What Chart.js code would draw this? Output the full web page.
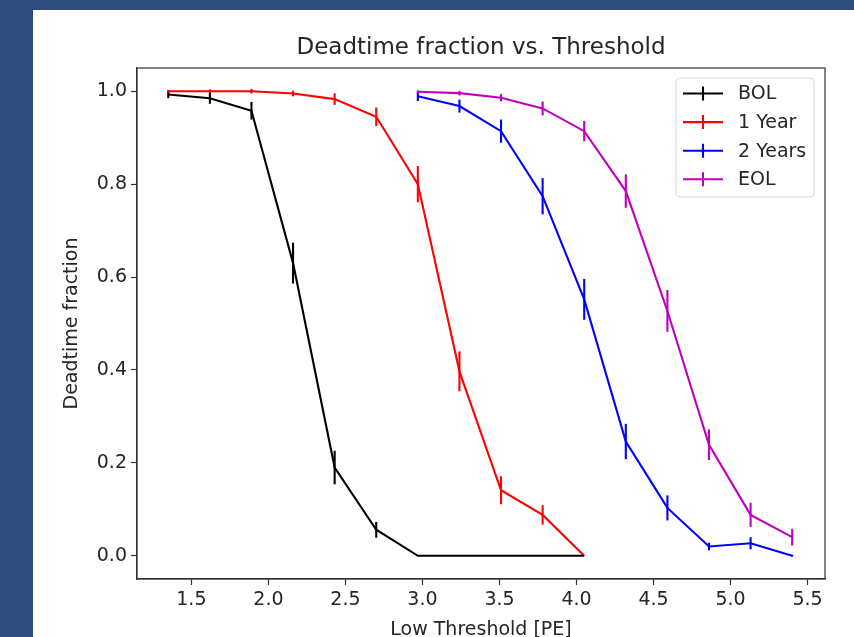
<!DOCTYPE html>
<html>
<head>
<meta charset="utf-8">
<script src="https://cdn.jsdelivr.net/npm/chart.js@4"></script>
<style>
  html, body { margin: 0; padding: 0; width: 854px; height: 637px; overflow: hidden; background: #2e4c7e; }
  #panel { position: absolute; left: 33px; top: 10px; width: 821px; height: 627px; background: #ffffff; }
  #wrap { position: absolute; left: 0; top: 0; width: 854px; height: 645px; }
</style>
</head>
<body>
<div id="panel"></div>
<div id="wrap"><canvas id="deadtimeChart" width="854" height="645"></canvas></div>
<script>
  // ----- data -----
  const labels = ["BOL", "1 Year", "2 Years", "EOL"];
  const colors = ["#000000", "#ff0000", "#0000ff", "#bf00bf"];

  const bolX = [1.35, 1.62, 1.89, 2.16, 2.43, 2.70, 2.97, 3.24, 3.51, 3.78, 4.05];
  const bolY = [0.993, 0.985, 0.958, 0.630, 0.190, 0.056, 0, 0, 0, 0, 0];
  const bolErr = [0.008, 0.012, 0.019, 0.044, 0.036, 0.017, 0, 0, 0, 0, 0];

  const year1X = [1.35, 1.62, 1.89, 2.16, 2.43, 2.70, 2.97, 3.24, 3.51, 3.78, 4.05];
  const year1Y = [1.0, 1.0, 1.0, 0.995, 0.983, 0.945, 0.800, 0.397, 0.141, 0.088, 0.0];
  const year1Err = [0.003, 0.004, 0.005, 0.006, 0.0125, 0.02, 0.039, 0.043, 0.03, 0.021, 0];

  const year2X = [2.97, 3.24, 3.51, 3.78, 4.05, 4.32, 4.59, 4.86, 5.13, 5.40];
  const year2Y = [0.989, 0.968, 0.914, 0.774, 0.552, 0.246, 0.103, 0.020, 0.027, 0.0];
  const year2Err = [0.01, 0.014, 0.025, 0.039, 0.044, 0.038, 0.027, 0.008, 0.013, 0.002];

  const eolX = [2.97, 3.24, 3.51, 3.78, 4.05, 4.32, 4.59, 4.86, 5.13, 5.40];
  const eolY = [0.999, 0.996, 0.986, 0.963, 0.914, 0.785, 0.527, 0.239, 0.088, 0.040];
  const eolErr = [0.003, 0.005, 0.008, 0.015, 0.022, 0.036, 0.045, 0.033, 0.026, 0.018];

  const xTicks = [1.5, 2.0, 2.5, 3.0, 3.5, 4.0, 4.5, 5.0, 5.5];
  const yTicks = [0.0, 0.2, 0.4, 0.6, 0.8, 1.0];

  const FONT = "'DejaVu Sans', sans-serif";
  const TEXT = "#262626";
  const SPINE = "#333333";

  const series = [
    { x: bolX, y: bolY, err: bolErr },
    { x: year1X, y: year1Y, err: year1Err },
    { x: year2X, y: year2Y, err: year2Err },
    { x: eolX, y: eolY, err: eolErr }
  ];

  const datasets = series.map((s, i) => ({
    label: labels[i],
    data: s.x.map((x, j) => ({ x: x, y: s.y[j] })),
    errors: s.err,
    borderColor: colors[i],
    backgroundColor: colors[i],
    borderWidth: 2.1,
    pointRadius: 0,
    tension: 0,
    fill: false
  }));

  // vertical error bars, top/right spines and the in-plot legend
  const errorBarPlugin = {
    id: "errorBars",
    afterDatasetsDraw(chart) {
      const ctx = chart.ctx;
      const yScale = chart.scales.y;
      ctx.save();
      chart.data.datasets.forEach((ds, i) => {
        const meta = chart.getDatasetMeta(i);
        ctx.strokeStyle = ds.borderColor;
        ctx.lineWidth = 2.1;
        meta.data.forEach((pt, j) => {
          const e = ds.errors[j];
          if (!e) return;
          const v = ds.data[j].y;
          ctx.beginPath();
          ctx.moveTo(pt.x, yScale.getPixelForValue(v - e));
          ctx.lineTo(pt.x, yScale.getPixelForValue(v + e));
          ctx.stroke();
        });
      });
      ctx.restore();
    },
    afterDraw(chart) {
      const ctx = chart.ctx;
      const a = chart.chartArea;
      ctx.save();
      // frame
      ctx.strokeStyle = SPINE;
      ctx.lineWidth = 1.2;
      ctx.strokeRect(a.left, a.top, a.right - a.left, a.bottom - a.top);

      // legend box
      const bx = 676, by = 78, bw = 138, bh = 119, r = 4;
      ctx.fillStyle = "rgba(255,255,255,0.8)";
      ctx.strokeStyle = "#d9d9d9";
      ctx.lineWidth = 1;
      ctx.beginPath();
      ctx.moveTo(bx + r, by);
      ctx.arcTo(bx + bw, by, bx + bw, by + bh, r);
      ctx.arcTo(bx + bw, by + bh, bx, by + bh, r);
      ctx.arcTo(bx, by + bh, bx, by, r);
      ctx.arcTo(bx, by, bx + bw, by, r);
      ctx.closePath();
      ctx.fill();
      ctx.stroke();

      ctx.font = "19px " + FONT;
      ctx.textBaseline = "middle";
      ctx.textAlign = "left";
      chart.data.datasets.forEach((ds, i) => {
        const rowY = 93.5 + i * 28.6;
        ctx.strokeStyle = ds.borderColor;
        ctx.lineWidth = 2.1;
        ctx.beginPath();
        ctx.moveTo(683, rowY);
        ctx.lineTo(723, rowY);
        ctx.moveTo(703, rowY - 7);
        ctx.lineTo(703, rowY + 7);
        ctx.stroke();
        ctx.fillStyle = TEXT;
        ctx.fillText(ds.label, 738, rowY + 1);
      });
      ctx.restore();
    }
  };

  new Chart(document.getElementById("deadtimeChart"), {
    type: "line",
    data: { datasets: datasets },
    plugins: [errorBarPlugin],
    options: {
      responsive: false,
      animation: false,
      layout: { padding: { left: 0, right: 29, top: 0, bottom: 0 } },
      plugins: {
        legend: { display: false },
        tooltip: { enabled: false },
        title: {
          display: true,
          fullSize: false,
          text: "Deadtime fraction vs. Threshold",
          color: TEXT,
          font: { family: FONT, size: 23, weight: "normal", lineHeight: 1 },
          padding: { top: 37, bottom: 8 }
        }
      },
      scales: {
        x: {
          type: "linear",
          min: 1.147,
          max: 5.613,
          afterBuildTicks: (scale) => { scale.ticks = xTicks.map(v => ({ value: v })); },
          afterFit: (scale) => { scale.height = 66; },
          grid: { drawOnChartArea: false, drawTicks: true, tickLength: 6, tickColor: SPINE, tickWidth: 1.2 },
          border: { display: true, color: SPINE, width: 1.2 },
          ticks: {
            color: TEXT,
            padding: 6,
            maxRotation: 0,
            font: { family: FONT, size: 19, lineHeight: 1 },
            callback: (v) => v.toFixed(1)
          },
          title: {
            display: true,
            text: "Low Threshold [PE]",
            color: TEXT,
            font: { family: FONT, size: 19, lineHeight: 1 },
            padding: { top: 0, bottom: 5.5 }
          }
        },
        y: {
          type: "linear",
          min: -0.05,
          max: 1.05,
          afterBuildTicks: (scale) => { scale.ticks = yTicks.map(v => ({ value: v })); },
          afterFit: (scale) => { scale.width = 137; },
          grid: { drawOnChartArea: false, drawTicks: true, tickLength: 6, tickColor: SPINE, tickWidth: 1.2 },
          border: { display: true, color: SPINE, width: 1.2 },
          ticks: {
            color: TEXT,
            padding: 4,
            font: { family: FONT, size: 19, lineHeight: 1 },
            callback: (v) => v.toFixed(1)
          },
          title: {
            display: true,
            text: "Deadtime fraction",
            color: TEXT,
            font: { family: FONT, size: 19, lineHeight: 1 },
            padding: { top: 62.5, bottom: 0 }
          }
        }
      }
    }
  });
</script>
</body>
</html>
